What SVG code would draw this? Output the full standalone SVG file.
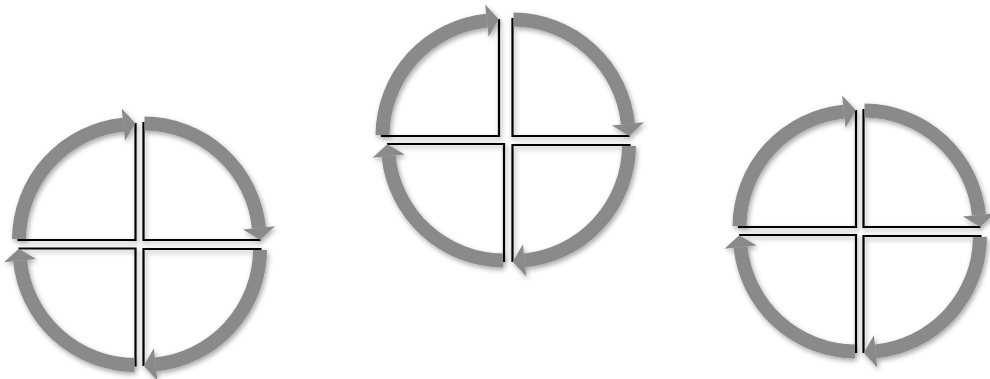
<svg xmlns="http://www.w3.org/2000/svg" xmlns:xlink="http://www.w3.org/1999/xlink" width="990" height="379" viewBox="0 0 990 379">
  <style>
    .ln { fill: none; stroke: #000; stroke-width: 2.2; }
    .arc { fill: none; stroke: #8a8a8a; stroke-width: 14; }
    .hd { fill: #8a8a8a; }
  </style>
  <defs>
    <filter id="sh" x="-20%" y="-20%" width="140%" height="140%">
      <feDropShadow dx="1.5" dy="2.5" stdDeviation="2.5" flood-color="#000" flood-opacity="0.35"/>
    </filter>
    <g id="q">
      <path class="ln" d="M -118 0 H 0 V -117"/>
      <path class="arc" d="M -116.5 -1 A 116 116 0 0 1 -12.1 -115.4"/>
      <polygon class="hd" points="-13.8,-131.5 -10.4,-99.3 -0.2,-116.7"/>
    </g>
  </defs>
  <rect width="990" height="379" fill="#fff"/>

  <g id="cycle-left">
    <g id="left-tl" filter="url(#sh)"><use xlink:href="#q" transform="translate(135.5 240)"/></g>
    <g id="left-tr" filter="url(#sh)"><use xlink:href="#q" transform="translate(143.5 240) rotate(90)"/></g>
    <g id="left-br" filter="url(#sh)"><use xlink:href="#q" transform="translate(143.5 249) rotate(180)"/></g>
    <g id="left-bl" filter="url(#sh)"><use xlink:href="#q" transform="translate(135.5 248.5) rotate(270)"/></g>
  </g>

  <g id="cycle-middle">
    <g id="mid-tl" filter="url(#sh)"><use xlink:href="#q" transform="translate(499 136)"/></g>
    <g id="mid-tr" filter="url(#sh)"><use xlink:href="#q" transform="translate(512.5 136) rotate(90)"/></g>
    <g id="mid-br" filter="url(#sh)"><use xlink:href="#q" transform="translate(512.5 145) rotate(180)"/></g>
    <g id="mid-bl" filter="url(#sh)"><use xlink:href="#q" transform="translate(504 144) rotate(270)"/></g>
  </g>

  <g id="cycle-right">
    <g id="right-tl" filter="url(#sh)"><use xlink:href="#q" transform="translate(856 227)"/></g>
    <g id="right-tr" filter="url(#sh)"><use xlink:href="#q" transform="translate(863.5 227) rotate(90)"/></g>
    <g id="right-br" filter="url(#sh)"><use xlink:href="#q" transform="translate(863.5 236) rotate(180)"/></g>
    <g id="right-bl" filter="url(#sh)"><use xlink:href="#q" transform="translate(856 235) rotate(270)"/></g>
  </g>
</svg>
